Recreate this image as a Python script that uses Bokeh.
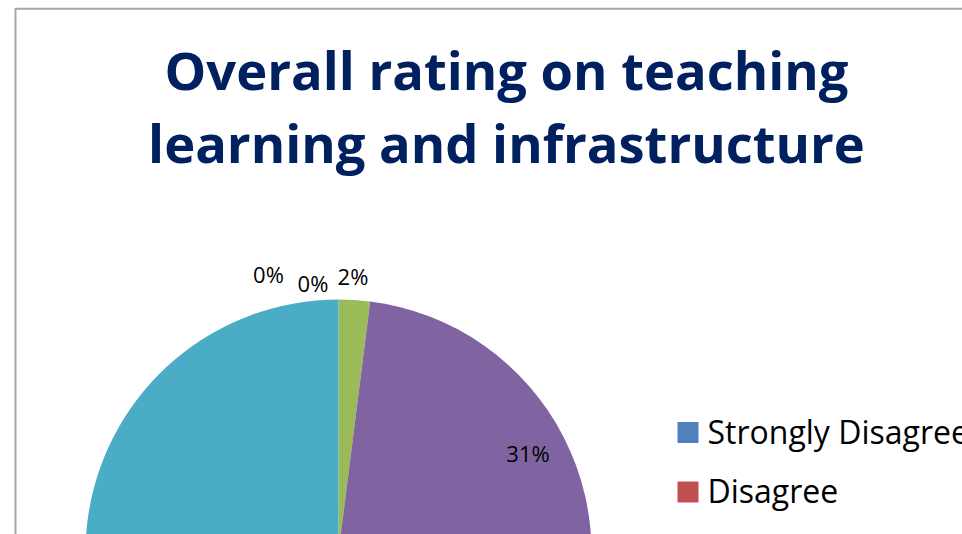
import numpy as np
from bokeh.plotting import figure
from bokeh.models import Range1d, ColumnDataSource
from bokeh.core.properties import value
from bokeh.embed import file_html
from bokeh.resources import INLINE

# ---- data ----
categories = ["Strongly Disagree", "Disagree", "Neutral", "Agree", "Strongly Agree"]
percent = [0, 0, 2, 31, 67]
labels = ["0%", "0%", "2%", "31%", "67%"]
colors = ["#4F81BD", "#C0504D", "#9BBB59", "#8064A2", "#4BACC6"]
title_lines = ["Overall rating on teaching", "learning and infrastructure"]

# ---- layout (screen px) ----
W, H = 962, 534
def sy(y):
    return H - y

cx, cy, R = 338, 552, 253
# label anchor positions (screen px); the last one lies outside the visible frame
label_xy = [(268, 283), (312.5, 292), (352.5, 285), (527.5, 462), (200, 640)]

p = figure(width=W, height=H, output_backend="svg", toolbar_location=None,
           x_range=Range1d(0, W), y_range=Range1d(0, H),
           x_axis_location=None, y_axis_location=None, min_border=0)
p.grid.visible = False
p.outline_line_color = None
p.background_fill_color = "white"
p.border_fill_color = "white"

# chart border (left and top visible)
p.line(x=[15, 15, 990], y=[-20, sy(8.3), sy(8.3)], line_color="#a6a6a6", line_width=2)

# pie: starts at 12 o'clock, clockwise
vals = np.array(percent, dtype=float)
frac = vals / vals.sum()
c1 = np.cumsum(frac)
c0 = c1 - frac
start = np.pi / 2 - 2 * np.pi * c1
end = np.pi / 2 - 2 * np.pi * c0
mask = vals > 0
src = ColumnDataSource(dict(
    x=[cx] * int(mask.sum()), y=[sy(cy)] * int(mask.sum()),
    start=start[mask], end=end[mask],
    color=[c for c, m in zip(colors, mask) if m]))
p.wedge(x="x", y="y", radius=R, start_angle="start", end_angle="end",
        direction="anticlock", fill_color="color", line_color=None, source=src)

# data labels (only those inside the visible frame)
lab_fs = 22
vis = [i for i, (a, b) in enumerate(label_xy) if b < H - 10]
p.text(x=[label_xy[i][0] for i in vis], y=[sy(label_xy[i][1] - 0.45 * lab_fs) for i in vis],
       text=[labels[i] for i in vis],
       text_font=value("Open Sans"), text_font_size=f"{lab_fs}px", text_color="#000000",
       text_align="center", text_baseline="alphabetic")

# title
t_fs = 52.5
p.text(x=[506, 506], y=[sy(92 - 0.44 * t_fs), sy(165 - 0.44 * t_fs)], text=title_lines,
       text_font=value("Open Sans"), text_font_style="bold", text_font_size=f"{t_fs}px",
       text_color="#002060", text_align="center", text_baseline="alphabetic")

# legend (entries whose row falls inside the frame)
lg_fs = 32
rows = [(categories[i], colors[i], 442.5 + 59.5 * i) for i in range(len(categories))
        if 442.5 + 59.5 * i < H - 10]
p.rect(x=[687.5] * len(rows), y=[sy(r[2] - 10.5) for r in rows], width=21, height=21,
       fill_color=[r[1] for r in rows], line_color=None)
p.text(x=[707] * len(rows), y=[sy(r[2] - 0.37 * lg_fs) for r in rows], text=[r[0] for r in rows],
       text_font=value("Open Sans"), text_font_size=f"{lg_fs}px", text_color="#000000",
       text_align="left", text_baseline="alphabetic")

open("out.html", "w").write(file_html(p, INLINE))
